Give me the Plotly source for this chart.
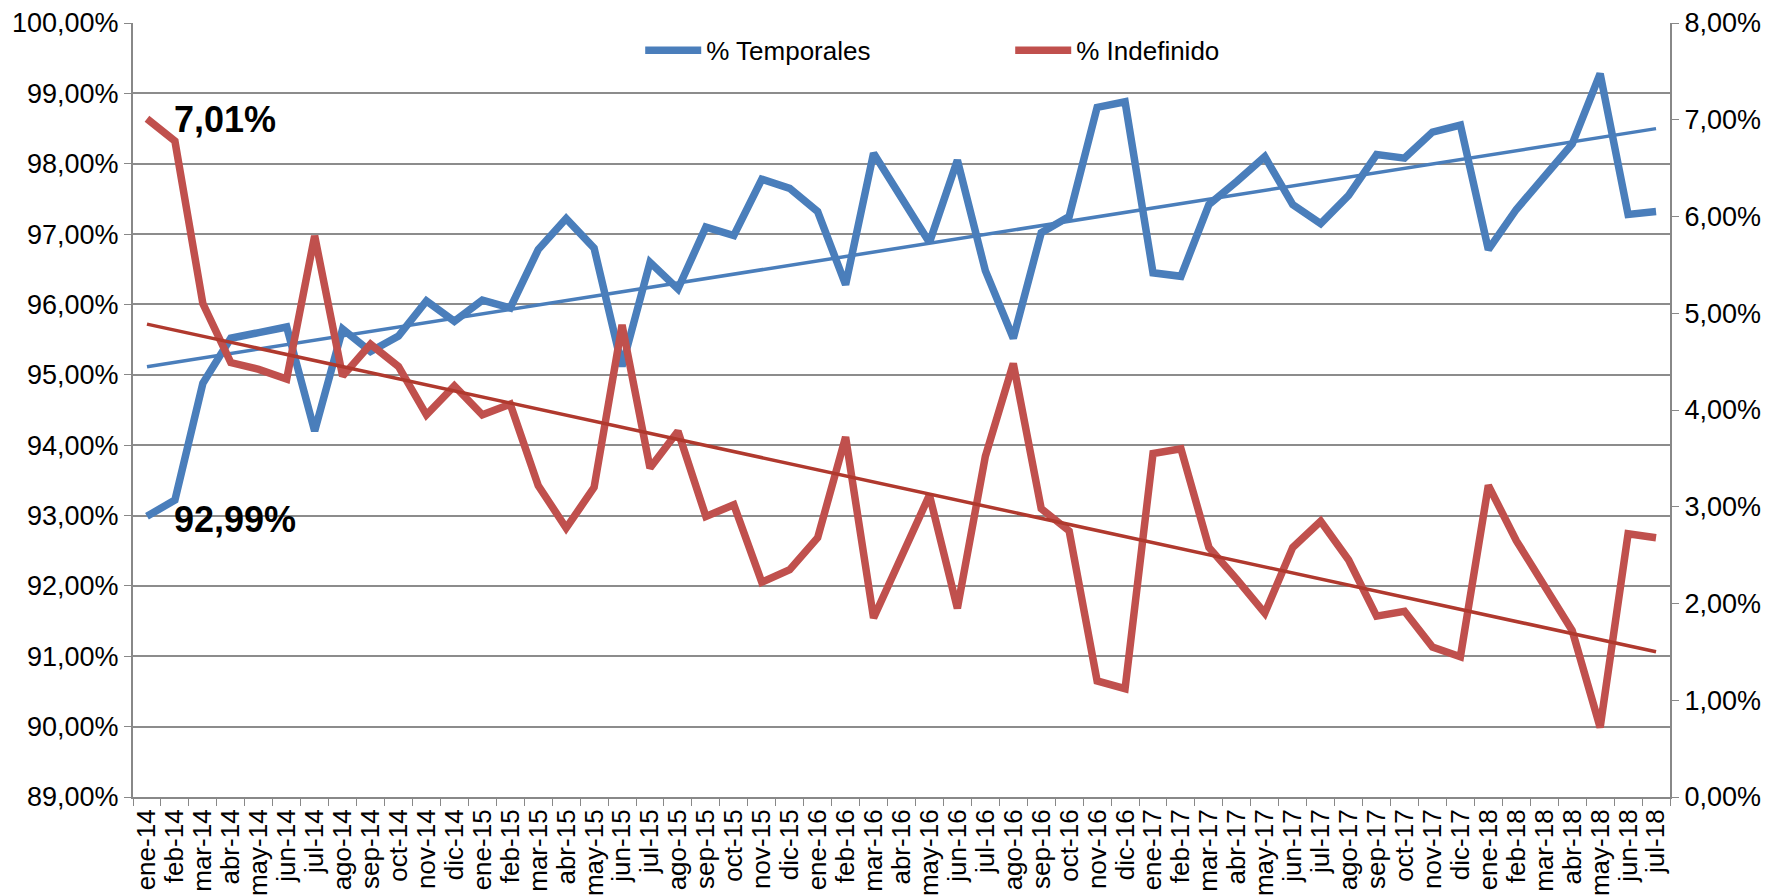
import numpy as np
import plotly.graph_objects as go

months = ["ene-14","feb-14","mar-14","abr-14","may-14","jun-14","jul-14","ago-14","sep-14","oct-14","nov-14","dic-14",
          "ene-15","feb-15","mar-15","abr-15","may-15","jun-15","jul-15","ago-15","sep-15","oct-15","nov-15","dic-15",
          "ene-16","feb-16","mar-16","abr-16","may-16","jun-16","jul-16","ago-16","sep-16","oct-16","nov-16","dic-16",
          "ene-17","feb-17","mar-17","abr-17","may-17","jun-17","jul-17","ago-17","sep-17","oct-17","nov-17","dic-17",
          "ene-18","feb-18","mar-18","abr-18","may-18","jun-18","jul-18"]

temporales = [92.99, 93.22, 94.88, 95.52, 95.60, 95.68, 94.20, 95.65, 95.33, 95.55, 96.05, 95.76,
              96.06, 95.95, 96.78, 97.22, 96.80, 95.12, 96.60, 96.22, 97.10, 96.98, 97.78, 97.65,
              97.32, 96.28, 98.15, 97.50, 96.88, 98.05, 96.48, 95.52, 97.02, 97.25, 98.80, 98.88,
              96.45, 96.40, 97.42, 97.75, 98.10, 97.42, 97.15, 97.55, 98.13, 98.08, 98.45, 98.55,
              96.78, 97.35, 97.82, 98.28, 99.28, 97.28, 97.32]

indefinido = [7.01, 6.78, 5.10, 4.49, 4.42, 4.32, 5.80, 4.35, 4.68, 4.45, 3.95, 4.25,
              3.95, 4.06, 3.22, 2.78, 3.20, 4.88, 3.40, 3.78, 2.90, 3.02, 2.22, 2.35,
              2.68, 3.72, 1.85, 2.50, 3.12, 1.95, 3.52, 4.48, 2.98, 2.75, 1.20, 1.12,
              3.55, 3.60, 2.58, 2.25, 1.90, 2.58, 2.85, 2.45, 1.87, 1.92, 1.55, 1.45,
              3.22, 2.65, 2.18, 1.72, 0.72, 2.72, 2.68]

label_first_indef = "7,01%"
label_first_temp = "92,99%"

BLUE = "#4A7EBB"
RED = "#C0504D"
RED_TREND = "#B0392E"
FONT = "Liberation Sans, Arial, sans-serif"
YTICKSIZE = 27
XTICKSIZE = 26

idx = np.arange(len(months))
bt = np.polyval(np.polyfit(idx, temporales, 1), idx)
rt = np.polyval(np.polyfit(idx, indefinido, 1), idx)

fig = go.Figure()
fig.add_trace(go.Scatter(x=months, y=temporales, name="% Temporales", mode="lines",
                         line=dict(color=BLUE, width=7.5), yaxis="y"))
fig.add_trace(go.Scatter(x=months, y=indefinido, name="% Indefinido", mode="lines",
                         line=dict(color=RED, width=7.5), yaxis="y2"))
fig.add_trace(go.Scatter(x=months, y=bt, mode="lines", showlegend=False,
                         line=dict(color=BLUE, width=3.5), yaxis="y", hoverinfo="skip"))
fig.add_trace(go.Scatter(x=months, y=rt, mode="lines", showlegend=False,
                         line=dict(color=RED_TREND, width=3.5), yaxis="y2", hoverinfo="skip"))

fig.add_annotation(x=0.9, y=98.63, xref="x", yref="y", text="<b>%s</b>" % label_first_indef,
                   showarrow=False, xanchor="left", yanchor="middle",
                   font=dict(family=FONT, size=36, color="black"))
fig.add_annotation(x=0.9, y=92.95, xref="x", yref="y", text="<b>%s</b>" % label_first_temp,
                   showarrow=False, xanchor="left", yanchor="middle",
                   font=dict(family=FONT, size=36, color="black"))

fig.update_layout(
    width=1772, height=896,
    margin=dict(l=125, r=110, t=15, b=107, autoexpand=False),
    paper_bgcolor="white", plot_bgcolor="white",
    separators=",.",
    font=dict(family=FONT, size=YTICKSIZE, color="black"),
    showlegend=True,
    legend=dict(orientation="h", x=0.33, y=0.995, xanchor="left", yanchor="top",
                bgcolor="rgba(0,0,0,0)", itemwidth=56, entrywidth=299, entrywidthmode="pixels",
                font=dict(family=FONT, size=26, color="black")),
    xaxis=dict(type="category", range=[-0.5, len(months) - 0.5], tickangle=-90,
               tickmode="linear", tick0=0, dtick=1, automargin=False,
               ticks="outside", tickson="boundaries", ticklen=7, tickcolor="#888888",
               showline=True, linecolor="#888888", linewidth=2, showgrid=False,
               tickfont=dict(family=FONT, size=XTICKSIZE, color="black")),
    yaxis=dict(range=[89, 100], dtick=1, tickformat=".2f", ticksuffix="%", automargin=False,
               showgrid=True, gridcolor="#8C8C8C", gridwidth=2,
               showline=True, linecolor="#888888", linewidth=2,
               ticks="outside", ticklen=7, tickcolor="#888888",
               tickfont=dict(family=FONT, size=YTICKSIZE, color="black"), zeroline=False),
    yaxis2=dict(range=[0, 8], dtick=1, tickformat=".2f", ticksuffix="%", automargin=False,
                overlaying="y", side="right", showgrid=False,
                showline=True, linecolor="#888888", linewidth=2,
                ticks="outside", ticklen=7, tickcolor="#888888",
                tickfont=dict(family=FONT, size=YTICKSIZE, color="black"), zeroline=False),
)

fig.write_html("out.html")
